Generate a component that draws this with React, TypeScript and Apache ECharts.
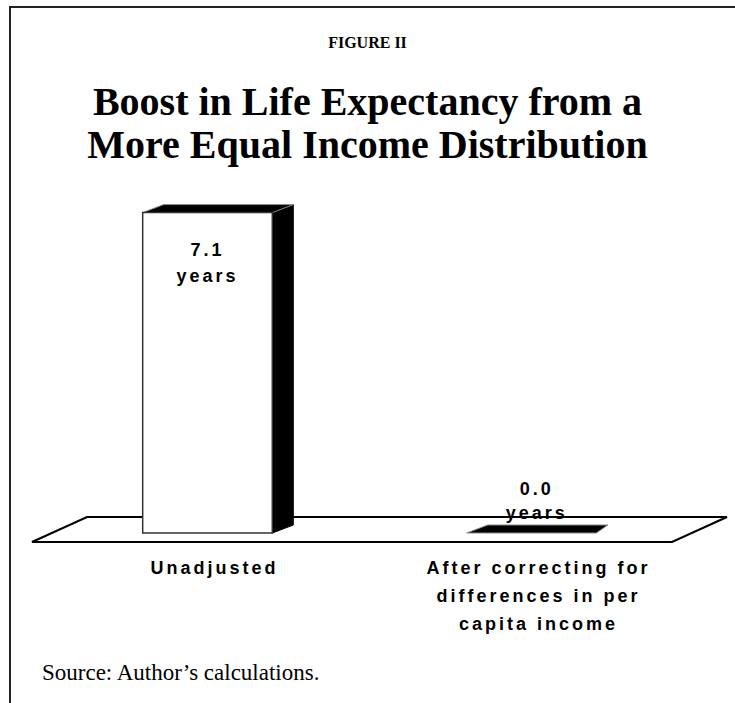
import React, { useEffect, useRef } from "react";
import * as echarts from "echarts";

const categories = [
  "Unadjusted",
  "After correcting for\ndifferences in per\ncapita income",
];
const values = [7.1, 0.0];
const unitLabel = "years";

const SANS = "'Liberation Sans', Arial, sans-serif";
const SERIF = "'Liberation Serif', 'Times New Roman', serif";

export default function App() {
  const ref = useRef<HTMLDivElement>(null);

  useEffect(() => {
    if (!ref.current) return;
    const chart = echarts.init(ref.current, null, { renderer: "svg" });

    const dx = 21;
    const dy = -8;

    const option: any = {
      animation: false,
      backgroundColor: "#ffffff",
      title: [
        {
          text: "FIGURE II",
          left: "center",
          top: 32,
          padding: 0,
          textStyle: {
            fontFamily: SERIF,
            fontWeight: "bold",
            fontSize: 16,
            lineHeight: 20,
            color: "#000",
          },
        },
        {
          text: "Boost in Life Expectancy from a\nMore Equal Income Distribution",
          left: "center",
          top: 80,
          padding: 0,
          textStyle: {
            fontFamily: SERIF,
            fontWeight: "bold",
            fontSize: 40,
            lineHeight: 43,
            color: "#000",
          },
        },
        {
          text: "Source: Author\u2019s calculations.",
          left: 42,
          top: 658,
          padding: 0,
          textStyle: {
            fontFamily: SERIF,
            fontWeight: "normal",
            fontSize: 23,
            lineHeight: 28,
            color: "#000",
          },
        },
      ],
      graphic: [
        {
          type: "line",
          shape: { x1: 10, y1: 7, x2: 10, y2: 703 },
          style: { stroke: "#222", lineWidth: 2 },
          silent: true,
        },
        {
          type: "line",
          shape: { x1: 9, y1: 7, x2: 735, y2: 7 },
          style: { stroke: "#222", lineWidth: 2 },
          silent: true,
        },
      ],
      grid: { left: 45.5, right: 41.5, top: 172, bottom: 170 },
      xAxis: {
        type: "category",
        data: categories,
        axisLine: { show: false },
        axisTick: { show: false },
        splitLine: { show: false },
        axisLabel: {
          interval: 0,
          margin: 21,
          fontFamily: SANS,
          fontWeight: "bold",
          fontSize: 18,
          lineHeight: 28,
          color: "#000",
          align: "center",
          padding: [0, 0, 0, 14],
        },
      },
      yAxis: {
        type: "value",
        min: 0,
        max: 8,
        show: false,
        splitLine: { show: false },
      },
      series: [
        {
          type: "custom",
          name: "floor",
          z: 1,
          silent: true,
          data: [[0, 0]],
          renderItem: (params: any, api: any) => {
            const cs = params.coordSys;
            const gl = cs.x;
            const gr = cs.x + cs.width;
            const base = cs.y + cs.height;
            return {
              type: "polygon",
              shape: {
                points: [
                  [gl - 13.5, base + 9],
                  [gl + 41.5, base - 16],
                  [gr + 33.5, base - 16],
                  [gr - 21.5, base + 9],
                ],
              },
              style: { fill: "#fff", stroke: "#000", lineWidth: 2 },
            };
          },
        },
        {
          type: "custom",
          name: "bars",
          z: 2,
          silent: true,
          encode: { x: 0, y: 1 },
          data: values.map((v, i) => [i, v]),
          renderItem: (params: any, api: any) => {
            const idx = api.value(0);
            const v = api.value(1);
            const base = api.coord([idx, 0]);
            const top = api.coord([idx, v]);
            const bw = api.size([1, 0])[0] * 0.4;
            const cx = base[0];
            const xl = cx - bw / 2;
            const xr = cx + bw / 2;
            const yb = base[1];
            const yt = top[1];
            const h = yb - yt;
            const children: any[] = [];
            if (h > 0) {
              children.push({
                type: "polygon",
                shape: {
                  points: [
                    [xr, yt],
                    [xr + dx, yt + dy],
                    [xr + dx, yb + dy],
                    [xr, yb],
                  ],
                },
                style: { fill: "#000", stroke: "#000", lineWidth: 1 },
              });
            }
            children.push({
              type: "polygon",
              shape: {
                points: [
                  [xl, yt],
                  [xl + dx, yt + dy],
                  [xr + dx * (h > 0 ? 1 : 0.55), yt + dy],
                  [xr, yt],
                ],
              },
              style: { fill: "#000", stroke: "#888", lineWidth: 1 },
            });
            if (h > 0) {
              children.push({
                type: "rect",
                shape: { x: xl, y: yt, width: bw, height: h },
                style: { fill: "#fff", stroke: "#333", lineWidth: 1.5 },
              });
            }
            const inside = h > 60;
            children.push({
              type: "text",
              x: inside ? cx : cx + dx / 4,
              y: inside ? yt + 24 : yt - 8,
              style: {
                text: v.toFixed(1) + "\n" + unitLabel,
                fontFamily: SANS,
                fontWeight: "bold",
                fontSize: 18,
                lineHeight: inside ? 26 : 24,
                fill: "#000",
                align: "center",
                verticalAlign: inside ? "top" : "bottom",
              },
            });
            return { type: "group", children };
          },
        },
      ],
    };

    chart.setOption(option);
    return () => {
      chart.dispose();
    };
  }, []);

  return (
    <>
      <style>{`
        .lifeexp-chart text[style*="Liberation Sans"],
        .lifeexp-chart text[font-family*="Liberation Sans"] {
          letter-spacing: 3px;
        }
      `}</style>
      <div
        ref={ref}
        className="lifeexp-chart"
        style={{
          position: "absolute",
          left: 0,
          top: 0,
          width: 735,
          height: 703,
          background: "#fff",
        }}
      />
    </>
  );
}
